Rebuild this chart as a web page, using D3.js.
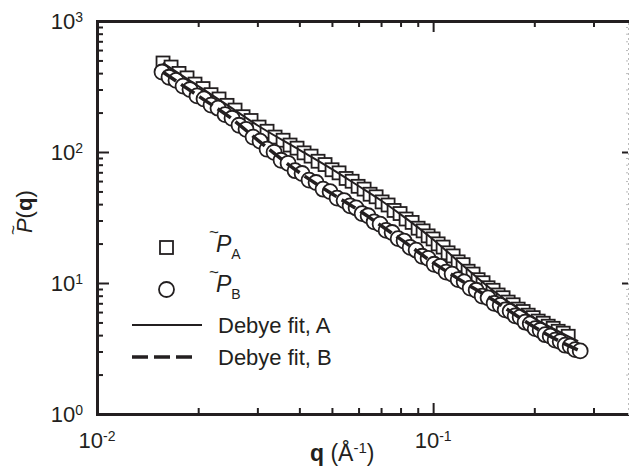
<!DOCTYPE html>
<html>
<head>
<meta charset="UTF-8">
<script src="https://d3js.org/d3.v7.min.js"></script>
<style>
  body { margin: 0; background: #fff; }
  text { font-family: "Liberation Sans", Arial, sans-serif; fill: #231f20; }
  .domain { stroke: #231f20; stroke-width: 3; stroke-linecap: square; }
  .tick line { stroke: #231f20; stroke-width: 2; }
</style>
<title>P(q) Debye fits</title>
</head>
<body>
<svg width="629" height="469"></svg>
<script>
// ---- data ----
var qA = [0.01572,0.01661,0.01754,0.01853,0.01957,0.02068,0.02184,0.02307,0.02437,0.02575,0.02720,0.02873,0.03035,0.03206,0.03387,0.03578,0.03753,0.03937,0.04131,0.04334,0.04547,0.04770,0.05004,0.05250,0.05510,0.05741,0.05982,0.06233,0.06494,0.06767,0.07051,0.07346,0.07654,0.07975,0.08310,0.08660,0.09023,0.09338,0.09663,0.1000,0.1035,0.1071,0.1108,0.1147,0.1187,0.1228,0.1271,0.1315,0.1361,0.1408,0.1457,0.1508,0.1561,0.1615,0.1672,0.1730,0.1791,0.1853,0.1918,0.1985,0.2054,0.2126,0.2200,0.2276,0.2355,0.2438,0.2523];
var pA = [478,445,398,368,330,305,274,254,227,209,186,174,155,144,130,123,113,107,98.5,93.0,85.0,80.2,73.2,69.3,62.8,59.8,54.7,52.1,47.6,45.5,41.6,39.4,35.8,33.9,30.8,29.0,26.2,25.0,22.9,21.7,19.9,18.8,17.0,16.1,14.5,13.8,12.3,11.7,10.6,10.05,9.20,8.80,8.10,7.72,7.15,6.82,6.32,6.06,5.68,5.44,5.12,4.93,4.68,4.51,4.28,4.14,3.92];

var qB = [0.01561,0.01638,0.01718,0.01803,0.01891,0.01984,0.02082,0.02184,0.02291,0.02404,0.02522,0.02646,0.02776,0.02913,0.03056,0.03206,0.03364,0.03529,0.03702,0.03884,0.04075,0.04275,0.04485,0.04705,0.04937,0.05179,0.05434,0.05662,0.05900,0.06148,0.06406,0.06675,0.06955,0.07247,0.07551,0.07868,0.08199,0.08543,0.08902,0.09275,0.09663,0.1007,0.1049,0.1093,0.1139,0.1187,0.1237,0.1289,0.1343,0.1399,0.1457,0.1519,0.1583,0.1638,0.1695,0.1754,0.1815,0.1878,0.1945,0.2012,0.2082,0.2154,0.2230,0.2307,0.2388,0.2471,0.2557,0.2646,0.2739];
var pB = [408,372,352,318,300,268,254,228,216,193,181,160,149,130,121,105,99.5,86.5,82.0,72.0,68.5,61.0,58.5,52.0,49.8,44.5,42.6,38.8,37.4,33.9,32.6,29.3,28.1,25.2,24.3,21.8,20.9,18.7,17.8,16.0,15.4,13.9,13.4,12.1,11.7,10.6,10.2,9.15,8.80,7.95,7.70,7.00,6.75,6.24,6.08,5.62,5.48,5.02,4.88,4.48,4.36,4.03,3.93,3.66,3.57,3.35,3.30,3.10,3.03];

var fitQA = [0.0157,0.02,0.025,0.03,0.04,0.05,0.06,0.07,0.08,0.1,0.12,0.15,0.2,0.25,0.27];
var fitPA = [478,319,219,160,104,74.1,55.0,42.6,33.4,21.5,14.3,8.83,5.36,3.97,3.60];
var fitQB = [0.0157,0.02,0.025,0.03,0.04,0.05,0.06,0.07,0.08,0.1,0.12,0.15,0.2,0.25,0.275];
var fitPB = [408,268,182,124,69.7,48.0,36.0,27.4,21.6,14.3,10.6,7.48,4.61,3.37,3.02];

// ticks
var xMajor = [0.01, 0.1], xMajorExp = ["-2", "-1"];
var xMinor = [0.02,0.03,0.04,0.05,0.06,0.07,0.08,0.09,0.2,0.3];
var yMajor = [1, 10, 100, 1000], yMajorExp = ["0", "1", "2", "3"];
var yMinor = [2,3,4,5,6,7,8,9,20,30,40,50,60,70,80,90,200,300,400,500,600,700,800,900];

var ink = "#231f20";
var svg = d3.select("svg");

var x = d3.scaleLog().domain([0.01, 0.38]).range([97, 628]);
var y = d3.scaleLog().domain([1, 1000]).range([414, 21]);

// ---- axes (ticks point inward) ----
function addAxis(axis, tx, ty, major, minor, bigLen, smallLen) {
   var g = svg.append("g").attr("transform", "translate(" + tx + "," + ty + ")");
   g.append("g").call(axis.tickValues(minor).tickSize(smallLen).tickSizeOuter(0).tickFormat(""));
   g.append("g").call(axis.tickValues(major).tickSize(bigLen).tickSizeOuter(0).tickFormat(""));
   return g;
}
addAxis(d3.axisTop(x), 0, 414, xMajor, xMinor, 11, 6);
addAxis(d3.axisBottom(x), 0, 21, xMajor, xMinor, 11, 6);
addAxis(d3.axisRight(y), 97, 0, yMajor, yMinor, 12, 6);
var right = addAxis(d3.axisLeft(y), 628, 0, yMajor.slice(1, 3), yMinor, 6, 2);
right.selectAll(".domain").style("stroke", "#bbb").style("stroke-width", 1).style("stroke-dasharray", "1,4");
right.selectAll(".tick line").filter(function(d) { return yMinor.indexOf(d) >= 0; }).style("stroke", "#bbb").style("stroke-width", 1);

// tick labels with superscripts
yMajor.forEach(function(v, i) {
   var t = svg.append("text").attr("x", 83).attr("y", y(v) + 8)
      .attr("text-anchor", "end").attr("font-size", 22);
   t.append("tspan").text("10");
   t.append("tspan").attr("dy", -7).attr("font-size", 14).text(yMajorExp[i]);
});
xMajor.forEach(function(v, i) {
   var t = svg.append("text").attr("x", x(v)).attr("y", 448)
      .attr("text-anchor", "middle").attr("font-size", 22);
   t.append("tspan").text("10");
   t.append("tspan").attr("dy", -7).attr("font-size", 14).text(xMajorExp[i]);
});

// axis titles
var xt = svg.append("text").attr("x", 310).attr("y", 461).attr("font-size", 23);
xt.append("tspan").attr("font-weight", "bold").text("q");
xt.append("tspan").text(" (Å");
xt.append("tspan").attr("dy", -8).attr("font-size", 15).text("-1");
xt.append("tspan").attr("dy", 8).text(")");

// y title: tilde sits above-left of the italic P, all in one text element
var yt = svg.append("g").attr("transform", "translate(32,233) rotate(-90)");
var ytt = yt.append("text").attr("x", -2).attr("y", -13).attr("font-size", 22);
ytt.append("tspan").attr("font-size", 17).text("~");
ytt.append("tspan").attr("dx", -8).attr("dy", 13).attr("font-style", "italic").text("P");
ytt.append("tspan").text("(");
ytt.append("tspan").attr("font-weight", "bold").text("q");
ytt.append("tspan").text(")");

// ---- data marks ----
var ptsA = qA.map(function(q, i) { return [q, pA[i]]; });
var ptsB = qB.map(function(q, i) { return [q, pB[i]]; });

svg.append("g").selectAll("rect").data(ptsA).enter().append("rect")
   .attr("x", function(d) { return x(d[0]) - 6.5; })
   .attr("y", function(d) { return y(d[1]) - 6.5; })
   .attr("width", 13).attr("height", 13)
   .attr("fill", "#fff").attr("stroke", ink).attr("stroke-width", 1.8);

svg.append("g").selectAll("circle").data(ptsB).enter().append("circle")
   .attr("cx", function(d) { return x(d[0]); })
   .attr("cy", function(d) { return y(d[1]); })
   .attr("r", 7.5)
   .attr("fill", "#fff").attr("stroke", ink).attr("stroke-width", 1.8);

var line = d3.line()
   .x(function(d) { return x(d[0]); })
   .y(function(d) { return y(d[1]); })
   .curve(d3.curveMonotoneX);

svg.append("path")
   .datum(fitQA.map(function(q, i) { return [q, fitPA[i]]; }))
   .attr("d", line).attr("fill", "none").attr("stroke", ink).attr("stroke-width", 2);
svg.append("path")
   .datum(fitQB.map(function(q, i) { return [q, fitPB[i]]; }))
   .attr("d", line).attr("fill", "none").attr("stroke", ink).attr("stroke-width", 3.5)
   .attr("stroke-dasharray", "16,6");

// ---- legend ----
var leg = svg.append("g");
leg.append("rect").attr("x", 160).attr("y", 241).attr("width", 13).attr("height", 13)
   .attr("fill", "#fff").attr("stroke", ink).attr("stroke-width", 1.8);
leg.append("circle").attr("cx", 166.5).attr("cy", 289.5).attr("r", 7.5)
   .attr("fill", "#fff").attr("stroke", ink).attr("stroke-width", 1.8);
leg.append("line").attr("x1", 132).attr("x2", 202).attr("y1", 325).attr("y2", 325)
   .attr("stroke", ink).attr("stroke-width", 2);
leg.append("line").attr("x1", 132).attr("x2", 194).attr("y1", 357).attr("y2", 357)
   .attr("stroke", ink).attr("stroke-width", 3.5).attr("stroke-dasharray", "16,6");

function legendP(yb, sub) {
   var t = leg.append("text").attr("x", 209).attr("y", yb - 14).attr("font-size", 23);
   t.append("tspan").attr("font-size", 17).text("~");
   t.append("tspan").attr("dx", -3).attr("dy", 14).attr("font-style", "italic").text("P");
   t.append("tspan").attr("dy", 7).attr("font-size", 14).text(sub);
}
legendP(252, "A");
legendP(292, "B");
leg.append("text").attr("x", 218).attr("y", 333).attr("font-size", 22).text("Debye fit, A");
leg.append("text").attr("x", 218).attr("y", 365).attr("font-size", 22).text("Debye fit, B");
</script>
</body>
</html>
